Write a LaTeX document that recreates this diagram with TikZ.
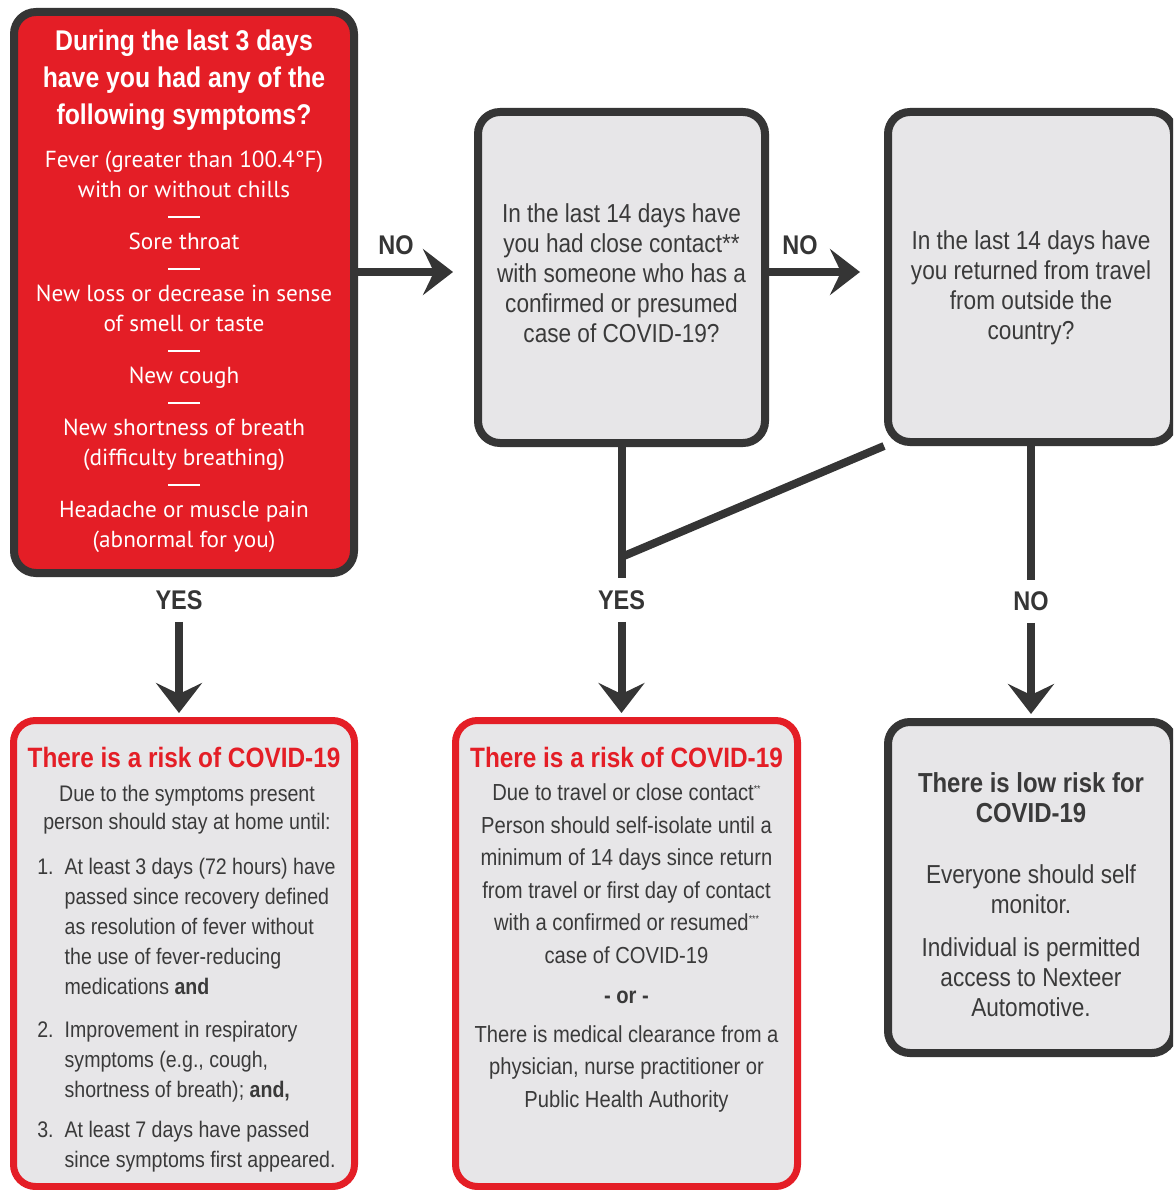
\documentclass[tikz,border=0pt]{standalone}
\usepackage{fontspec}
\usetikzlibrary{arrows.meta}
\setmainfont{Liberation Sans}
\newfontfamily\condfont[FakeStretch=0.87]{Liberation Sans}
\newfontfamily\symfont{PT Sans}
\definecolor{covidred}{HTML}{E41E26}
\definecolor{boxgray}{HTML}{E7E6E8}
\definecolor{framegray}{HTML}{353535}
\definecolor{inkgray}{HTML}{3A3A3A}
\newcommand\symsep{\rule[2pt]{32pt}{2pt}}
\newcommand\fnmark[1]{\raisebox{8pt}{\fontsize{10}{10}\selectfont #1}}
\tikzset{
  qbox/.style={draw=framegray, line width=8pt, rounded corners=22pt, fill=boxgray, inner sep=0pt},
  symbox/.style={qbox, fill=covidred},
  riskbox/.style={qbox, draw=covidred, line width=7pt},
  qtext/.style={text=inkgray, align=center, inner sep=0pt, font=\condfont\fontsize{26}{30}\selectfont},
  riskhead/.style={anchor=north, inner sep=0pt, text=covidred, font=\condfont\bfseries\fontsize{28}{30}\selectfont},
  answer/.style={text=framegray, inner sep=0pt, font=\condfont\bfseries\fontsize{27}{30}\selectfont},
  wire/.style={draw=framegray, line width=8pt},
  flow/.style={wire, -{Stealth[length=30pt,width=46pt,inset=11pt]}},
}
\begin{document}
\begin{tikzpicture}[x=1pt,y=-1pt]
\useasboundingbox (0,0) rectangle (1173,1190);
\clip (0,0) rectangle (1173,1190);
\fill[white] (0,0) rectangle (1173,1190);

% the questions
\node[symbox, minimum width=340pt, minimum height=561pt] (symp) at (184,292.5) {};
\node[anchor=north, align=center, text=white, inner sep=0pt,
  font=\condfont\bfseries\fontsize{28.5}{37}\selectfont] (symphead) at ([yshift=-22pt]symp.north)
  {During the last 3 days\\ have you had any of the\\ following symptoms?};
\node[anchor=north, align=center, text=white, inner sep=0pt,
  font=\symfont\fontsize{23.2}{30}\selectfont] (symplist) at ([yshift=-143pt]symp.north)
  {Fever (greater than 100.4°F)\\ with or without chills\\[-8pt]
   \symsep\\ Sore throat\\[-8pt]
   \symsep\\ New loss or decrease in sense\\ of smell or taste\\[-8pt]
   \symsep\\ New cough\\[-8pt]
   \symsep\\ New shortness of breath\\ (difficulty breathing)\\[-8pt]
   \symsep\\ Headache or muscle pain\\ (abnormal for you)};

\node[qbox, minimum width=287pt, minimum height=331pt] (contact) at (621.5,277.5) {};
\node[qtext] (contacttext) at ([yshift=4pt]contact.center)
  {In the last 14 days have\\ you had close contact**\\ with someone who has a\\ confirmed or presumed\\ case of COVID-19?};
\node[qbox, minimum width=286pt, minimum height=330pt] (travel) at (1031,277) {};
\node[qtext] (traveltext) at ([yshift=-11pt]travel.center)
  {In the last 14 days have\\ you returned from travel\\ from outside the\\ country?};

% the outcomes
\node[riskbox, minimum width=341pt, minimum height=466pt] (riskA) at (184,953.5) {};
\node[riskhead] (riskAhead) at ([yshift=-30.5pt]riskA.north) {There is a risk of COVID-19};
\node[anchor=north, inner sep=0pt, text=inkgray, font=\condfont\fontsize{22.5}{30}\selectfont]
  (riskAtext) at ([xshift=3pt,yshift=-63pt]riskA.north) {%
  \begin{tabular}{@{}r@{\hspace{11pt}}l@{}}
  \multicolumn{2}{c}{Due to the symptoms present}\\[-2pt]
  \multicolumn{2}{c}{person should stay at home until:}\\[15pt]
  1. & At least 3 days (72 hours) have\\
     & passed since recovery defined\\
     & as resolution of fever without\\
     & the use of fever-reducing\\
     & medications \textbf{and}\\[13pt]
  2. & Improvement in respiratory\\
     & symptoms (e.g., cough,\\
     & shortness of breath); \textbf{and,}\\[10pt]
  3. & At least 7 days have passed\\
     & since symptoms first appeared.
  \end{tabular}};

\node[riskbox, minimum width=342pt, minimum height=466pt] (riskB) at (626.5,953.5) {};
\node[riskhead] (riskBhead) at ([yshift=-30.5pt]riskB.north) {There is a risk of COVID-19};
\node[anchor=north, align=center, inner sep=0pt, text=inkgray,
  font=\condfont\fontsize{23.2}{32.5}\selectfont] (riskBtext) at ([yshift=-66.5pt]riskB.north)
  {Due to travel or close contact\fnmark{**}\\ Person should self-isolate until a\\
   minimum of 14 days since return\\ from travel or first day of contact\\
   with a confirmed or resumed\fnmark{***}\\ case of COVID-19\\[7.5pt]
   \textbf{- or -}\\[6.5pt]
   There is medical clearance from a\\ physician, nurse practitioner or\\ Public Health Authority};

\node[qbox, minimum width=286pt, minimum height=331pt] (lowrisk) at (1031,887.5) {};
\node[qtext] (lowtext) at ([yshift=-7pt]lowrisk.center)
  {{\bfseries\fontsize{27.5}{30}\selectfont There is low risk for}\\
   {\bfseries\fontsize{27.5}{30}\selectfont COVID-19}\\[31pt]
   Everyone should self\\ monitor.\\[13pt]
   Individual is permitted\\ access to Nexteer\\ Automotive.};

% the arrows
\draw[flow] ([yshift=20.5pt]symp.east) -- ([yshift=5.5pt,xshift=-21pt]contact.west)
  node[answer, pos=0.4, above=13pt] (noA) {NO};
\draw[flow] ([yshift=5.5pt]contact.east) -- ([yshift=5pt,xshift=-24pt]travel.west)
  node[answer, pos=0.34, above=13pt] (noB) {NO};

\node[answer] (yesA) at ([xshift=-5pt,yshift=-23pt]symp.south) {YES};
\draw[flow, shorten >=4pt] ([yshift=-12pt]yesA.south) -- (yesA |- riskA.north);

\coordinate (join) at ([yshift=-110pt]contact.south);
\draw[wire] (contact.south) -- ([yshift=-131pt]contact.south);
\draw[wire] (travel.south west) -- (join);
\node[answer] (yesB) at ([yshift=-153pt]contact.south) {YES};
\draw[flow, shorten >=4pt] ([yshift=-12pt]yesB.south) -- (yesB |- riskB.north);

\draw[wire] (travel.south) -- ([yshift=-134pt]travel.south);
\node[answer] (noC) at ([yshift=-155pt]travel.south) {NO};
\draw[flow, shorten >=4pt] ([yshift=-12pt]noC.south) -- (noC |- lowrisk.north);
\end{tikzpicture}
\end{document}
